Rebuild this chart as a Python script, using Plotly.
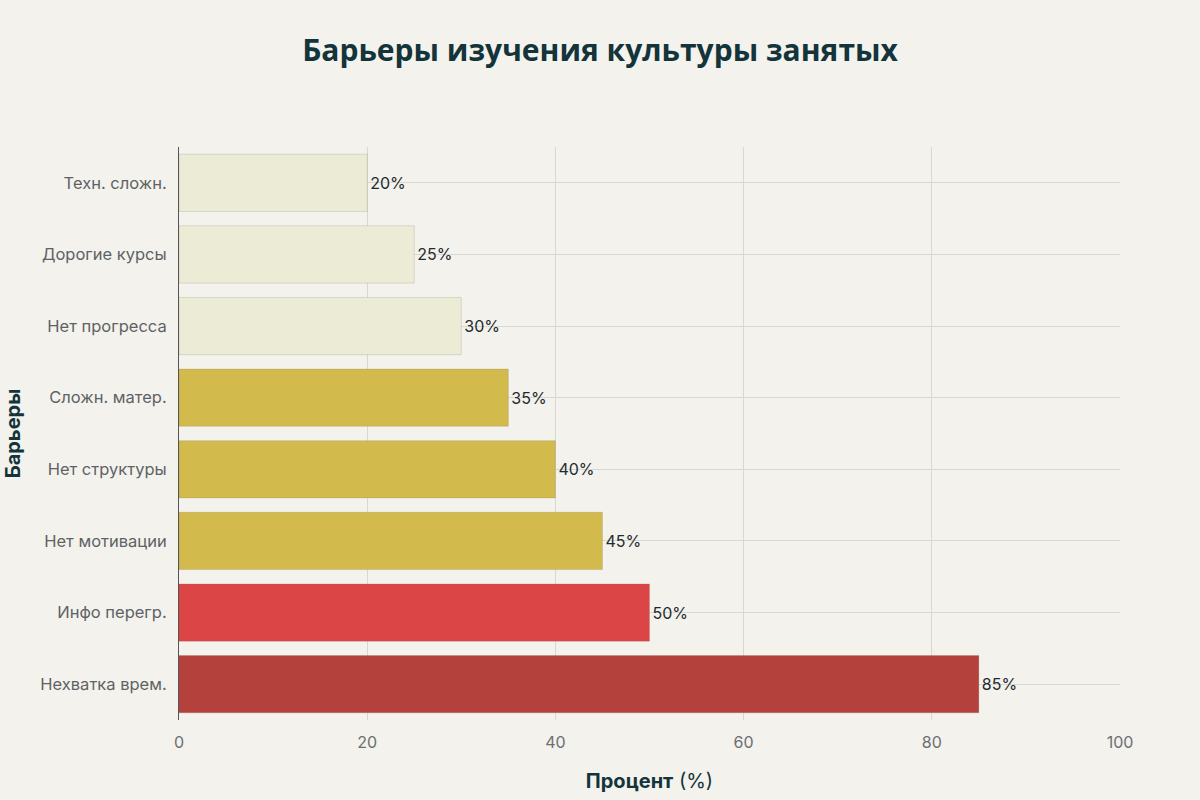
import plotly.graph_objects as go

# barriers, bottom to top
barriers = ["Нехватка врем.", "Инфо перегр.", "Нет мотивации", "Нет структуры",
            "Сложн. матер.", "Нет прогресса", "Дорогие курсы", "Техн. сложн."]
percent = [85, 50, 45, 40, 35, 30, 25, 20]
bar_colors = ["#B4413C", "#DB4545", "#D2BA4C", "#D2BA4C",
              "#D2BA4C", "#ECEBD5", "#ECEBD5", "#ECEBD5"]
labels = [f"{v}%" for v in percent]

fig = go.Figure()
fig.add_trace(go.Bar(
    x=percent, y=barriers, orientation="h",
    marker=dict(color=bar_colors, line=dict(color="rgba(120,110,90,0.2)", width=1)),
    text=labels, textposition="outside", cliponaxis=False,
    textfont=dict(size=16, color="#1F2A30"),
))

fig.update_layout(
    width=1200, height=800,
    paper_bgcolor="#F3F2EC", plot_bgcolor="#F3F2EC",
    font=dict(family="Inter, Open Sans, sans-serif", color="#5E6266", size=16),
    title=dict(text="<b>Барьеры изучения культуры занятых</b>", x=0.5, xanchor="center",
               y=0.937, yanchor="middle",
               font=dict(size=30, color="#13343B", family="Open Sans, sans-serif")),
    margin=dict(l=176, r=80, t=147, b=80),
    bargap=0.2, showlegend=False,
)
fig.update_xaxes(
    range=[0, 100], dtick=20, showgrid=True, gridcolor="#D8D8D3", zeroline=False,
    showline=False, ticks="outside", ticklen=8, tickcolor="rgba(0,0,0,0)",
    tickfont=dict(size=16, color="#6B6F72"),
    title=dict(text="<b>Процент</b> (%)", font=dict(size=20, color="#13343B"), standoff=22),
)
fig.update_yaxes(
    showgrid=True, gridcolor="#D8D8D3", showline=True, linecolor="#555", linewidth=1,
    ticks="outside", ticklen=8, tickcolor="rgba(0,0,0,0)",
    tickfont=dict(size=16.5, color="#5E6266"),
    title=dict(text="<b>Барьеры</b>", font=dict(size=20, color="#13343B"), standoff=14),
)

fig.write_html("out.html", config={"displayModeBar": False},
               post_script="document.body.style.margin='0';")
